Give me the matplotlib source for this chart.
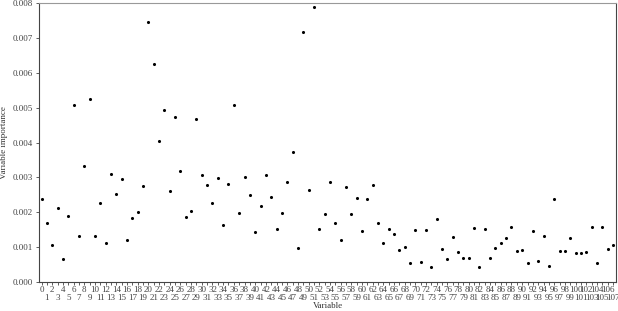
import numpy as np
import matplotlib
matplotlib.use("Agg")
import matplotlib.pyplot as plt

plt.rcParams['font.family'] = ['Liberation Serif', 'DejaVu Serif']

# variable importance per variable index (values in units of 1e-3)
variables = list(range(108))
importance_e3 = [
    2.39, 1.70, 1.05, 2.11, 0.67, 1.89, 5.08, 1.33, 3.34, 5.25,
    1.31, 2.28, 1.12, 3.09, 2.53, 2.96, 1.22, 1.84, 2.01, 2.76,
    7.46, 6.24, 4.05, 4.93, 2.61, 4.73, 3.18, 1.88, 2.03, 4.68,
    3.08, 2.78, 2.28, 2.98, 1.63, 2.81, 5.08, 1.99, 3.02, 2.51,
    1.44, 2.19, 3.08, 2.45, 1.52, 1.97, 2.86, 3.73, 0.99, 7.17,
    2.65, 7.90, 1.52, 1.96, 2.88, 1.68, 1.22, 2.74, 1.96, 2.41,
    1.46, 2.38, 2.79, 1.68, 1.13, 1.51, 1.37, 0.92, 1.01, 0.56,
    1.49, 0.57, 1.48, 0.44, 1.82, 0.94, 0.65, 1.29, 0.86, 0.70,
    0.68, 1.54, 0.44, 1.52, 0.69, 0.99, 1.12, 1.27, 1.57, 0.89,
    0.93, 0.56, 1.47, 0.61, 1.33, 0.46, 2.39, 0.89, 0.89, 1.26,
    0.84, 0.83, 0.86, 1.59, 0.56, 1.59, 0.94, 1.05,
]
importance = np.array(importance_e3) / 1000.0
y_ticks = [0.000, 0.001, 0.002, 0.003, 0.004, 0.005, 0.006, 0.007, 0.008]

fig = plt.figure(figsize=(6.18, 3.11), dpi=100)
ax = fig.add_axes([0.063, 0.093, 0.934, 0.897])

ax.scatter(variables, importance, s=5, color='black', linewidths=0, zorder=3)

ax.set_xlim(-0.5, 107.6)
ax.set_ylim(0, 0.008)

tick_labels = [str(v) if v % 2 == 0 else '\n' + str(v) for v in variables]
ax.set_xticks(variables)
ax.set_xticklabels(tick_labels, fontsize=6.5, color='#444444', linespacing=1.0)
ax.set_yticks(y_ticks)
ax.set_yticklabels([f"{t:.3f}" for t in y_ticks], fontsize=6.5, color='#444444')
ax.tick_params(axis='x', length=2, width=0.6, pad=1, colors='#444444')
ax.tick_params(axis='y', length=2.5, width=0.6, pad=2, colors='#444444')

ax.set_xlabel('Variable', fontsize=6.5, color='#333333', labelpad=0)
ax.set_ylabel('Variable importance', fontsize=6.5, color='#333333', labelpad=3)

for side in ['left', 'bottom', 'right']:
    ax.spines[side].set_color('#444444')
    ax.spines[side].set_linewidth(0.8)
ax.spines['top'].set_color('#999999')
ax.spines['top'].set_linewidth(0.8)

fig.savefig('out.png', dpi=100)
